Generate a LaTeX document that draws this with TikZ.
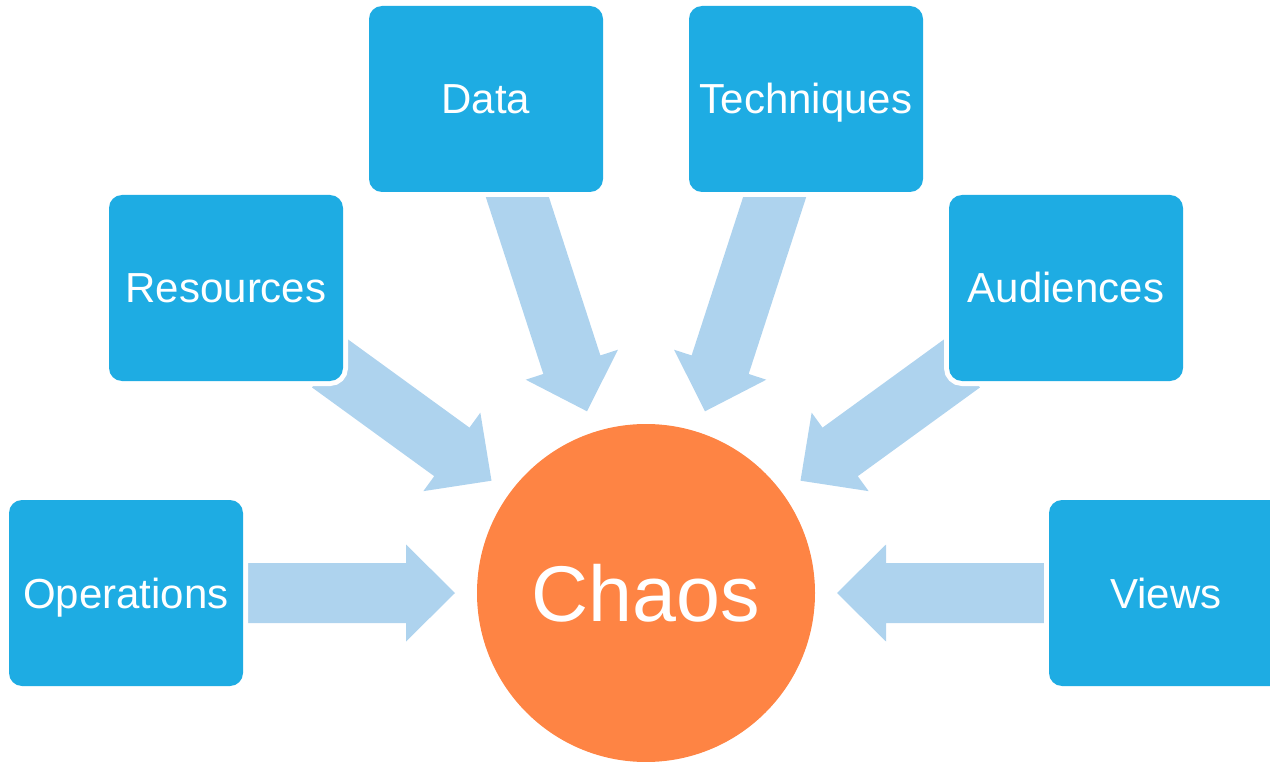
\documentclass[tikz,border=0pt]{standalone}
\usepackage{fontspec}
\setmainfont{Liberation Sans}
\usetikzlibrary{calc,backgrounds}
\definecolor{boxblue}{RGB}{30,172,227}
\definecolor{arrowblue}{RGB}{174,211,238}
\definecolor{chaosorange}{RGB}{254,132,68}
\tikzset{
  box/.style={rectangle, rounded corners=13pt, minimum width=234pt, minimum height=186pt,
    inner sep=0pt, fill=boxblue, text=white, font=\fontsize{42}{50}\selectfont,
    text height=30pt, text depth=0pt,
    preaction={draw=white, line width=10pt}},
  hub/.style={circle, minimum size=338pt, inner sep=0pt, fill=chaosorange, text=white,
    font=\fontsize{79}{90}\selectfont},
  blockarrow/.style={fill=arrowblue}
}
\newcommand\blockarr[2]{%
  \coordinate (hb) at ($(#2)!49pt!(#1)$);
  \fill[blockarrow] ($(#1)!30pt!90:(#2)$) -- ($(hb)!30pt!90:(#2)$) -- ($(hb)!48.5pt!90:(#2)$)
    -- (#2) -- ($(hb)!48.5pt!-90:(#2)$) -- ($(hb)!30pt!-90:(#2)$) -- ($(#1)!30pt!-90:(#2)$) -- cycle;
}
\begin{document}
\begin{tikzpicture}[x=1pt,y=-1pt]
  \useasboundingbox (0,0) rectangle (1270,762);
  \clip (0,0) rectangle (1270,762);
  % hub
  \node[hub] (chaos) at (646,593) {Chaos};
  % boxes
  \node[box] (ops) at (126,593) {Operations};
  \node[box] (res) at (226,288) {Resources};
  \node[box] (data) at (486,99) {Data};
  \node[box] (tech) at (806,99) {Techniques};
  \node[box] (aud) at (1066,288) {Audiences};
  \node[box] (views) at (1166,593) {Views};
  % arrow end points
  \coordinate (opsT) at (246,593);   \coordinate (opsH) at (455,593);
  \coordinate (resT) at (329.7,363.2); \coordinate (resH) at (491.5,480.7);
  \coordinate (dataT) at (513.1,184); \coordinate (dataH) at (587,411.3);
  \coordinate (techT) at (778.9,184); \coordinate (techH) at (705,411.3);
  \coordinate (audT) at (962.3,363.2); \coordinate (audH) at (800.5,480.7);
  \coordinate (viewsT) at (1046,593); \coordinate (viewsH) at (837,593);
  \begin{scope}[on background layer]
    \blockarr{opsT}{opsH}
    \blockarr{resT}{resH}
    \blockarr{dataT}{dataH}
    \blockarr{techT}{techH}
    \blockarr{audT}{audH}
    \blockarr{viewsT}{viewsH}
  \end{scope}
\end{tikzpicture}
\end{document}
